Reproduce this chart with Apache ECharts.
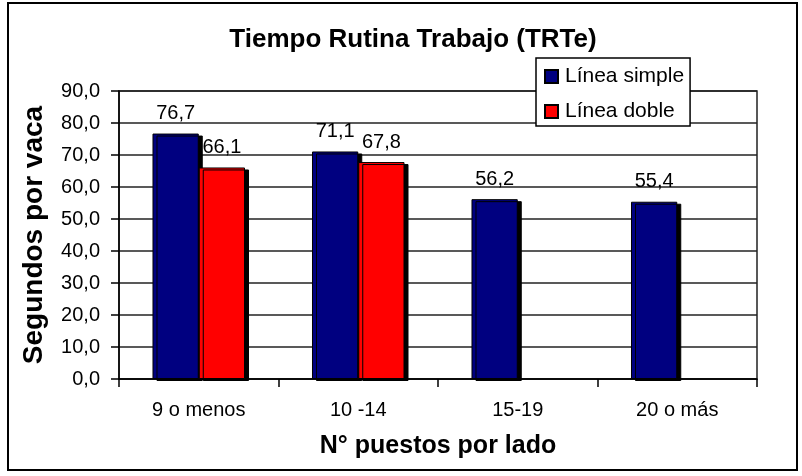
<!DOCTYPE html>
<html>
<head>
<meta charset="utf-8">
<script src="https://cdn.jsdelivr.net/npm/echarts@6/dist/echarts.min.js"></script>
<style>
  html, body { margin: 0; padding: 0; background: #fff; }
  #chart { width: 802px; height: 476px; }
</style>
</head>
<body>
<div id="chart"></div>
<script>
var categories = ["9 o menos", "10 -14", "15-19", "20 o más"];
var lineaSimple = [76.7, 71.1, 56.2, 55.4];
var lineaDoble = [66.1, 67.8, null, null];

var font = "Liberation Sans, Arial, sans-serif";

function fmt(v) {
  return v.toFixed(1).replace(".", ",");
}

var chart = echarts.init(document.getElementById("chart"), null, { renderer: "canvas" });

function barSeries(name, data, color) {
  return {
    name: name,
    type: "bar",
    data: data,
    barGap: "0%",
    barCategoryGap: "42%",
    itemStyle: {
      color: color,
      borderColor: "#000",
      borderWidth: 1,
      shadowColor: "#000",
      shadowOffsetX: 4,
      shadowOffsetY: 2,
      shadowBlur: 0
    },
    label: {
      show: true,
      position: "top",
      distance: 10,
      color: "#000",
      fontFamily: font,
      fontSize: 20,
      formatter: function (p) { return fmt(p.value); }
    }
  };
}

chart.setOption({
  animation: false,
  title: {
    text: "Tiempo Rutina Trabajo (TRTe)",
    left: 408,
    textAlign: "center",
    top: 22,
    textStyle: { fontFamily: font, fontSize: 26, fontWeight: "bold", color: "#000" }
  },
  legend: {
    orient: "vertical",
    left: 536,
    top: 58,
    padding: [8, 6, 4, 8],
    itemGap: 14,
    itemWidth: 13,
    itemHeight: 13,
    icon: "rect",
    backgroundColor: "#fff",
    borderColor: "#000",
    borderWidth: 1.5,
    textStyle: { fontFamily: font, fontSize: 21, color: "#000", padding: [0, 0, 0, 2] },
    data: ["Línea simple", "Línea doble"]
  },
  graphic: [{
    type: "rect",
    shape: { x: 8, y: 3, width: 789, height: 467 },
    style: { fill: null, stroke: "#000", lineWidth: 2 },
    silent: true,
    z: -1
  }],
  grid: {
    left: 119,
    right: 45,
    top: 91,
    bottom: 97,
    show: true,
    borderColor: "#222",
    borderWidth: 1.5,
    backgroundColor: "#fff"
  },
  xAxis: {
    type: "category",
    data: categories,
    name: "N° puestos por lado",
    nameLocation: "middle",
    nameGap: 55,
    nameTextStyle: { fontFamily: font, fontSize: 25, fontWeight: "bold", color: "#000" },
    axisLine: { lineStyle: { color: "#000", width: 1.5 } },
    axisTick: { show: true, length: 8, lineStyle: { color: "#000", width: 1.5 } },
    axisLabel: { fontFamily: font, fontSize: 20, color: "#000", margin: 21 }
  },
  yAxis: {
    type: "value",
    min: 0,
    max: 90,
    interval: 10,
    name: "Segundos por vaca",
    nameLocation: "middle",
    nameGap: 71,
    nameTextStyle: { fontFamily: font, fontSize: 28, fontWeight: "bold", color: "#000" },
    axisLine: { show: true, lineStyle: { color: "#000", width: 1.5 } },
    axisTick: { show: true, length: 8, lineStyle: { color: "#000", width: 1.5 } },
    axisLabel: {
      fontFamily: font, fontSize: 20, color: "#000", margin: 19,
      formatter: function (v) { return fmt(v); }
    },
    splitLine: { show: true, lineStyle: { color: "#222", width: 1.5 } }
  },
  series: [
    barSeries("Línea simple", lineaSimple, "#000080"),
    barSeries("Línea doble", lineaDoble, "#ff0000")
  ]
});
</script>
</body>
</html>
